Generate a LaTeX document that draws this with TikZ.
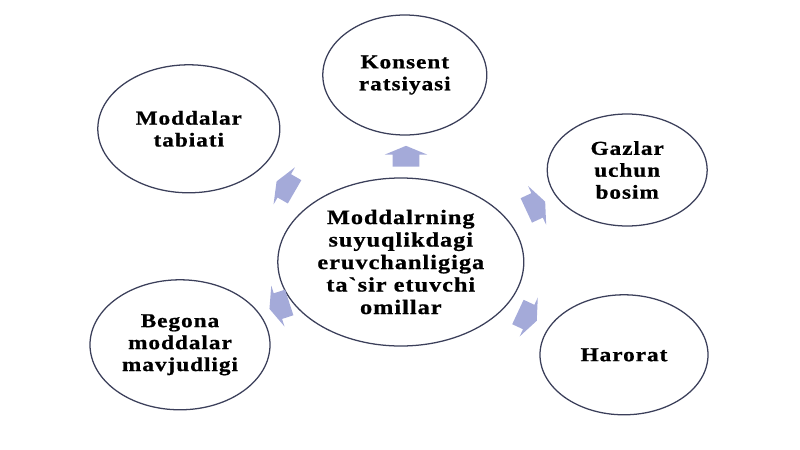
\documentclass[tikz,border=0pt]{standalone}
\usepackage{fontspec}
\usetikzlibrary{shapes.geometric,shapes.arrows,positioning}
\newfontfamily\LabelFont[FakeStretch=1.18,LetterSpace=5,FakeBold=0.8]{Liberation Serif}
\definecolor{OvalLine}{HTML}{3B3F5A}
\definecolor{ArrowFill}{HTML}{A4AAD9}
\tikzset{
	oval/.style={ellipse, draw=OvalLine, line width=0.9pt, fill=white, inner sep=0pt, align=center,
		font=\LabelFont\bfseries\fontsize{14}{15.6}\selectfont},
	blockarrow/.style={single arrow, fill=ArrowFill, draw=none, inner xsep=0pt, inner ysep=0.33cm,
		minimum height=0.52cm, single arrow head extend=0.2cm, single arrow head indent=0pt,
		single arrow tip angle=135, rotate=#1}
}
\begin{document}
\begin{tikzpicture}
			\useasboundingbox (0,0) rectangle (20,-11.225);
			\coordinate(CentrePos) at (10.02,-6.55);
			\coordinate(TopPos) at (10.12,-1.875);
			\coordinate(TopLeftPos) at (4.72,-3.22);
			\coordinate(RightPos) at (15.68,-4.25);
			\coordinate(BottomLeftPos) at (4.5,-8.62);
			\coordinate(BottomRightPos) at (15.6,-8.87);
			
			\node[oval, minimum width=6.15cm, minimum height=4.2cm, font=\LabelFont\bfseries\fontsize{14.6}{16}\selectfont] (Omillar) at (CentrePos)
				{Moddalrning\\suyuqlikdagi\\eruvchanligiga\\ta`sir etuvchi\\omillar};
			\node[oval, minimum width=4.1cm, minimum height=3cm] (Konsent) at (TopPos) {Konsent\\ratsiyasi};
			\node[oval, minimum width=4.55cm, minimum height=3.2cm] (Tabiat) at (TopLeftPos) {Moddalar\\tabiati};
			\node[oval, minimum width=4cm, minimum height=2.8cm] (Bosim) at (RightPos) {Gazlar\\uchun\\bosim};
			\node[oval, minimum width=4.5cm, minimum height=3.25cm] (Begona) at (BottomLeftPos) {Begona\\moddalar\\mavjudligi};
			\node[oval, minimum width=4.2cm, minimum height=3cm] (Harorat) at (BottomRightPos) {Harorat};
			
			\node[blockarrow=90] (ToKonsent) at (10.15,-3.975) {};
			\node[blockarrow=150] (ToTabiat) at (7.2,-4.7) {};
			\node[blockarrow=25] (ToBosim) at (13.33,-5.18) {};
			\node[blockarrow=198] (ToBegona) at (7.05,-7.62) {};
			\node[blockarrow=-25] (ToHarorat) at (13.12,-7.88) {};
		\end{tikzpicture}
\end{document}
